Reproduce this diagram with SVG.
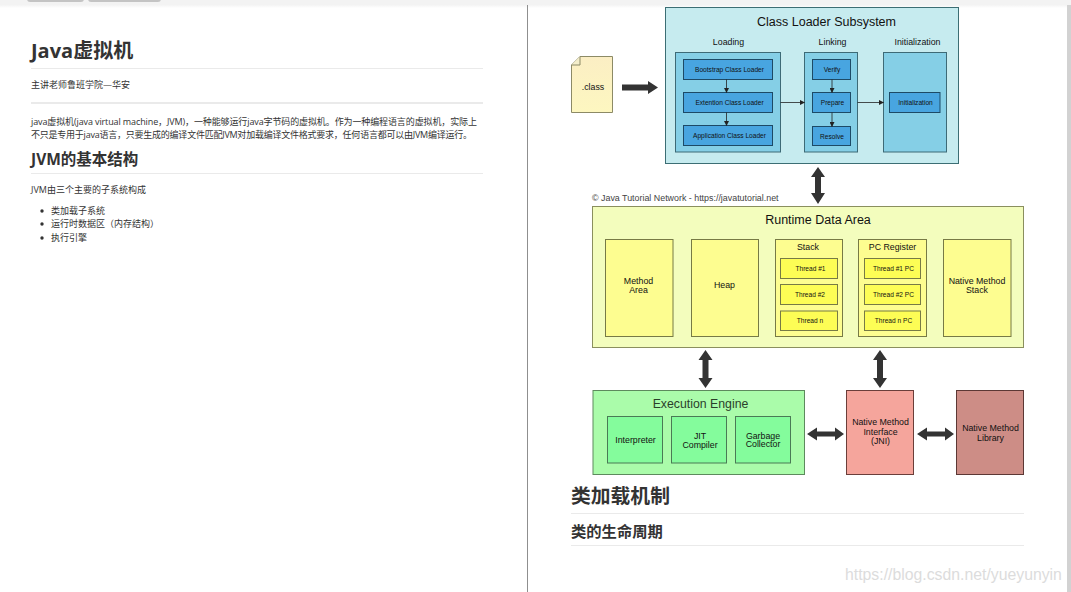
<svg xmlns="http://www.w3.org/2000/svg" width="1071" height="592" viewBox="0 0 1071 592">
<style>
text{font-family:"Liberation Sans",Arial,sans-serif;text-anchor:middle;fill:#111}
.doc{font-family:"Open Sans","Noto Sans CJK SC",sans-serif;text-anchor:start;fill:#333}
.h{font-family:"Open Sans","Noto Sans CJK SC",sans-serif;text-anchor:start;fill:#333;font-weight:700}
.p{font-size:9px}
.hr{fill:#eaeaea}
.big{stroke:none;fill:#333}
.thin{stroke:#222;stroke-width:.8;fill:none;marker-end:url(#a)}
.cyan{fill:#c6ebef;stroke:#3c6e74}
.mid{fill:#85cfe6;stroke:#3d6a76}
.blue{fill:#48a5e0;stroke:#1d4a66}
.yo{fill:#f3fdbd;stroke:#8a8f5e}
.y{fill:#fdfd90;stroke:#777a45}
.yy{fill:#fdfd55;stroke:#777a45}
.go{fill:#aafcaa;stroke:#5d8a5d}
.g{fill:#84fc9c;stroke:#4a7a55}
.t16{font-size:12.5px}
.t10{font-size:8.8px}
.t7{font-size:6.6px}
</style>
<defs>
<marker id="a" markerWidth="5" markerHeight="5" refX="4.5" refY="2.5" orient="auto" markerUnits="userSpaceOnUse"><path d="M0 0L5 2.5L0 5z" fill="#222"/></marker>
<linearGradient id="f" x1="0" y1="0" x2="0" y2="1"><stop offset="0" stop-color="#fbeec4"/><stop offset="1" stop-color="#fdf7c0"/></linearGradient>
<linearGradient id="top" x1="0" y1="0" x2="0" y2="1"><stop offset="0" stop-color="#f3f3f3"/><stop offset=".6" stop-color="#f3f3f3"/><stop offset="1" stop-color="#fff"/></linearGradient>
</defs>
<rect width="1071" height="592" fill="#fff"/>
<rect width="1071" height="8" fill="url(#top)"/>
<rect x="27" y="-6" width="57" height="8" rx="3" fill="#c4c4c4"/>
<rect x="88" y="-6" width="73" height="8" rx="3" fill="#c4c4c4"/>
<rect x="527" y="5" width="1" height="587" fill="#8f8f8f"/>
<rect x="1067" y="5" width="4" height="587" fill="#d2d2d2"/>

<g id="doc-left">
<text class="h" x="31" y="58" font-size="20">Java虚拟机</text>
<rect class="hr" x="31" y="68" width="452" height="1"/>
<text class="doc p" x="31" y="88">主讲老师鲁班学院—华安</text>
<rect class="hr" x="31" y="102" width="452" height="2"/>
<text class="doc p" x="31" y="125" textLength="446">java虚拟机(java virtual machine，JVM)，一种能够运行java字节码的虚拟机。作为一种编程语言的虚拟机，实际上</text>
<text class="doc p" x="31" y="138" textLength="441">不只是专用于java语言，只要生成的编译文件匹配JVM对加载编译文件格式要求，任何语言都可以由JVM编译运行。</text>
<text class="h" x="31" y="165" font-size="15.5">JVM的基本结构</text>
<rect class="hr" x="31" y="173" width="452" height="1"/>
<text class="doc p" x="31" y="193">JVM由三个主要的子系统构成</text>
<circle cx="42" cy="211" r="1.7" fill="#333"/><text class="doc p" x="51" y="214">类加载子系统</text>
<circle cx="42" cy="224" r="1.7" fill="#333"/><text class="doc p" x="51" y="227">运行时数据区（内存结构）</text>
<circle cx="42" cy="238" r="1.7" fill="#333"/><text class="doc p" x="51" y="241">执行引擎</text>
</g>

<g id="class-file">
<path d="M571.500 65L580 56.500H612.500V112.500H571.500Z" fill="url(#f)" stroke="#8c8a66"/>
<path d="M571.500 65H580V56.500" fill="#f4eecb" stroke="#8c8a66"/>
<text class="t10" x="593" y="90">.class</text>
</g>

<g id="class-loader-subsystem">
<rect class="cyan" x="665.500" y="7.500" width="293" height="156"/>
<text x="826.500" y="26" class="t16">Class Loader Subsystem</text>
<text x="728.500" y="44.500" class="t10">Loading</text>
<text x="832.500" y="44.500" class="t10">Linking</text>
<text x="917.500" y="44.500" class="t10">Initialization</text>
<rect class="mid" x="675.500" y="52.500" width="105" height="99.500"/>
<rect class="mid" x="804.500" y="52.500" width="53" height="99.500"/>
<rect class="mid" x="883.500" y="52.500" width="63" height="99.500"/>
</g>
<g id="bootstrap"><rect class="blue" x="683.500" y="59.500" width="89" height="20"/><text class="t7" x="729.500" y="71.500">Bootstrap Class Loader</text></g>
<g id="extension"><rect class="blue" x="683.500" y="92.500" width="89" height="20"/><text class="t7" x="729.500" y="104.500">Extention Class Loader</text></g>
<g id="application"><rect class="blue" x="683.500" y="125.500" width="89" height="20"/><text class="t7" x="729.500" y="137.500">Application Class Loader</text></g>
<g id="verify"><rect class="blue" x="812.500" y="59.500" width="38" height="20"/><text class="t7" x="832" y="71.500">Verify</text></g>
<g id="prepare"><rect class="blue" x="812.500" y="92.500" width="38" height="20"/><text class="t7" x="832.500" y="105">Prepare</text></g>
<g id="resolve"><rect class="blue" x="812.500" y="126.500" width="38" height="19"/><text class="t7" x="832" y="138.500">Resolve</text></g>
<g id="initialization"><rect class="blue" x="889.500" y="92.500" width="50.500" height="20"/><text class="t7" x="915.500" y="104.500">Initialization</text></g>

<g id="runtime-data-area">
<rect class="yo" x="592.500" y="206.500" width="431" height="141"/>
<text x="818" y="224" class="t16">Runtime Data Area</text>
</g>
<g id="method-area"><rect class="y" x="605.500" y="239.500" width="67.500" height="97"/><text class="t10" x="638.500" y="284">Method</text><text class="t10" x="638.500" y="293">Area</text></g>
<g id="heap"><rect class="y" x="691.500" y="239.500" width="67" height="97"/><text class="t10" x="724.500" y="288">Heap</text></g>
<g id="stack"><rect class="y" x="775.500" y="239.500" width="67" height="97"/><text class="t10" x="808" y="250">Stack</text></g>
<g id="thread-1"><rect class="yy" x="780.500" y="258.500" width="57" height="20"/><text class="t7" x="810.500" y="270.500">Thread #1</text></g>
<g id="thread-2"><rect class="yy" x="780.500" y="284.500" width="57" height="20"/><text class="t7" x="810" y="296.500">Thread #2</text></g>
<g id="thread-n"><rect class="yy" x="780.500" y="311" width="57" height="19.500"/><text class="t7" x="810" y="322.500">Thread n</text></g>
<g id="pc-register"><rect class="y" x="858.500" y="239.500" width="68" height="97"/><text class="t10" x="892.500" y="250">PC Register</text></g>
<g id="thread-1-pc"><rect class="yy" x="864.500" y="258.500" width="56" height="20"/><text class="t7" x="893.500" y="270.500">Thread #1 PC</text></g>
<g id="thread-2-pc"><rect class="yy" x="864.500" y="284.500" width="56" height="20"/><text class="t7" x="893.500" y="296.500">Thread #2 PC</text></g>
<g id="thread-n-pc"><rect class="yy" x="864.500" y="311" width="56" height="19.500"/><text class="t7" x="893.500" y="322.500">Thread n PC</text></g>
<g id="native-method-stack"><rect class="y" x="943.500" y="239.500" width="67.500" height="97"/><text class="t10" x="977" y="284">Native Method</text><text class="t10" x="977" y="293">Stack</text></g>

<g id="execution-engine">
<rect class="go" x="593" y="390.500" width="211.500" height="84"/>
<text x="700.500" y="408" font-size="12.300" style="fill:#2a3f2a">Execution Engine</text>
</g>
<g id="interpreter"><rect class="g" x="607.500" y="416.500" width="55" height="46.500"/><text class="t10" x="635.500" y="443">Interpreter</text></g>
<g id="jit"><rect class="g" x="671.500" y="416.500" width="55" height="46.500"/><text class="t10" x="700" y="438.500">JIT</text><text class="t10" x="700" y="447.500">Compiler</text></g>
<g id="gc"><rect class="g" x="735.500" y="416.500" width="55" height="46.500"/><text class="t10" x="763" y="439">Garbage</text><text class="t10" x="763" y="447">Collector</text></g>
<g id="jni"><rect x="846.500" y="390.500" width="67" height="84" fill="#f5a59c" stroke="#6b3e3a"/><text class="t10" x="880.500" y="425">Native Method</text><text class="t10" x="880.500" y="434.500">Interface</text><text class="t10" x="880.500" y="443.500">(JNI)</text></g>
<g id="library"><rect x="956.500" y="390.500" width="67" height="84" fill="#cd8d86" stroke="#5c3835"/><text class="t10" x="990.500" y="431">Native Method</text><text class="t10" x="990.500" y="440.500">Library</text></g>

<g id="connectors">
<path class="big" d="M622 84.500H648V81L658 87.500L648 94V90.500H622Z"/>
<path class="big" d="M818 167L825 177H821V193H825L818 204L811 193H815V177H811Z"/>
<path class="big" d="M705.500 350L712.500 360H708.500V378H712.500L705.500 388L698.500 378H702.500V360H698.500Z"/>
<path class="big" d="M880 350L887 360H883V378H887L880 388L873 378H877V360H873Z"/>
<path class="big" d="M807 434L817 427.500V431.500H835V427.500L844 434L835 440.500V436.500H817V440.500Z"/>
<path class="big" d="M917 434L927 427.500V431.500H945V427.500L954 434L945 440.500V436.500H927V440.500Z"/>
<path class="thin" d="M726.500 79.500V92.500"/>
<path class="thin" d="M726.500 112.500V125.500"/>
<path class="thin" d="M832 79.500V92.500"/>
<path class="thin" d="M832 112.500V126.500"/>
<path class="thin" d="M780.500 102.500H804.500"/>
<path class="thin" d="M857.500 102.500H883.500"/>
</g>

<g id="doc-right">
<text x="592" y="201" font-size="8.900" style="text-anchor:start;fill:#444">© Java Tutorial Network - https://javatutorial.net</text>
<text class="h" x="571" y="503" font-size="19.800">类加载机制</text>
<rect class="hr" x="571" y="513" width="453" height="1"/>
<text class="h" x="571" y="537" font-size="15.300">类的生命周期</text>
<rect class="hr" x="571" y="545" width="453" height="1"/>
<text x="845" y="580" font-size="15.800" style="text-anchor:start;fill:#dcdcdc">https://blog.csdn.net/yueyunyin</text>
</g>
</svg>
